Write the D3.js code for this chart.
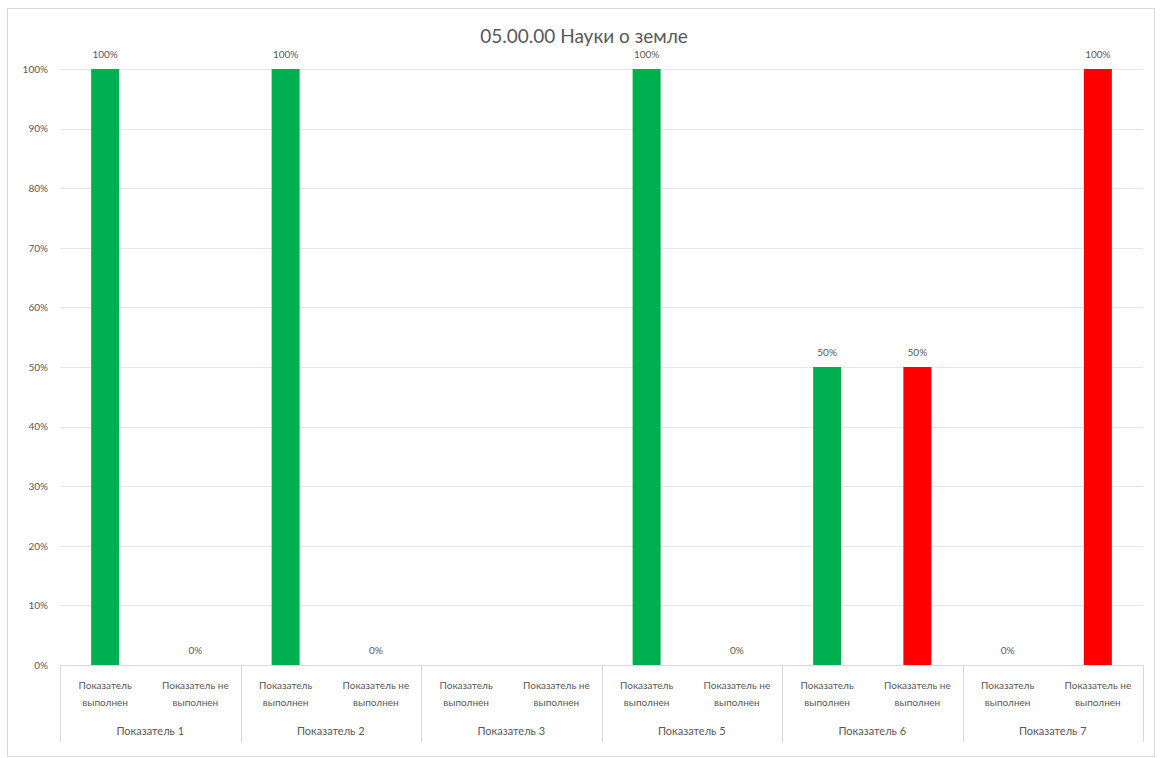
<!DOCTYPE html>
<html><head><meta charset="utf-8">
<script src="https://cdn.jsdelivr.net/npm/d3@7"></script>
<style>body{margin:0;background:#fff;}svg{display:block;font-family:Lato,"Open Sans",sans-serif;}</style>
</head><body><svg id="c" width="1162" height="758"></svg>
<script>
const title = "05.00.00 Науки о земле";
const groups = ["Показатель 1","Показатель 2","Показатель 3","Показатель 5","Показатель 6","Показатель 7"];
const subCategories = ["Показатель выполнен","Показатель не выполнен"];
const subLines = [["Показатель","выполнен"],["Показатель не","выполнен"]];
const doneValues = [1, 1, null, 1, 0.5, 0];
const notDoneValues = [0, 0, null, 0, 0.5, 1];
const yTicks = [0,0.1,0.2,0.3,0.4,0.5,0.6,0.7,0.8,0.9,1];
const colors = ["#00B050","#FF0000"];

const rows = [];
groups.forEach((g,gi)=>{
  rows.push({key:gi+"-0", group:g, sub:0, value:doneValues[gi]});
  rows.push({key:gi+"-1", group:g, sub:1, value:notDoneValues[gi]});
});

const svg = d3.select("#c");
const L=60, R=1143, T=69, B=665;
const text="#595959";

svg.append("rect").attr("x",7.5).attr("y",8.5).attr("width",1147).attr("height",748)
  .attr("fill","#fff").attr("stroke","#D9D9D9");

const x = d3.scaleBand().domain(rows.map(d=>d.key)).range([L,R]).paddingInner(0.69).paddingOuter(0.345);
const xOuter = d3.scaleBand().domain(rows.map(d=>d.key)).range([L,R]);
const xg = d3.scaleBand().domain(groups).range([L,R]);
const y = d3.scaleLinear().domain([0,1]).range([B,T]);

// gridlines
svg.append("g").selectAll("line").data(yTicks).join("line")
  .attr("x1",L).attr("x2",R).attr("y1",d=>Math.round(y(d))+0.5).attr("y2",d=>Math.round(y(d))+0.5)
  .attr("stroke","#E6E6E6");

// y axis labels
const yAxis = d3.axisLeft(y).tickValues(yTicks).tickFormat(d3.format(".0%")).tickSize(0).tickPadding(12);
const ya = svg.append("g").attr("transform",`translate(${L},0)`).call(yAxis);
ya.select(".domain").remove();
ya.selectAll("text").attr("fill",text).style("font-size","10px").style("font-family","Lato");

// x axis line
svg.append("line").attr("x1",L).attr("x2",R).attr("y1",B+0.5).attr("y2",B+0.5).attr("stroke","#D9D9D9");

// group separators
svg.append("g").selectAll("line").data(d3.range(groups.length+1)).join("line")
  .attr("x1",i=>Math.round(L+i*xg.step())+0.5).attr("x2",i=>Math.round(L+i*xg.step())+0.5)
  .attr("y1",B).attr("y2",742).attr("stroke","#D9D9D9");

// bars
const valid = rows.filter(d=>d.value!==null);
svg.append("g").selectAll("rect").data(valid).join("rect")
  .attr("x",d=>x(d.key)).attr("width",x.bandwidth())
  .attr("y",d=>y(d.value)).attr("height",d=>y(0)-y(d.value))
  .attr("fill",d=>colors[d.sub]);

// data labels
svg.append("g").selectAll("text").data(valid).join("text")
  .attr("x",d=>x(d.key)+x.bandwidth()/2).attr("y",d=>y(d.value)-11)
  .attr("text-anchor","middle").attr("fill",text).style("font-size","10px")
  .text(d=>d3.format(".0%")(d.value));

// sub category labels
const sl = svg.append("g").selectAll("text").data(rows).join("text")
  .attr("text-anchor","middle").attr("fill",text).style("font-size","10px")
  .attr("transform",d=>`translate(${xOuter(d.key)+xOuter.bandwidth()/2},0)`);
sl.each(function(d){
  const t=d3.select(this);
  subLines[d.sub].forEach((ln,i)=>t.append("tspan").attr("x",0).attr("y",689+i*17).text(ln));
});

// group labels
svg.append("g").selectAll("text").data(groups).join("text")
  .attr("x",d=>xg(d)+xg.bandwidth()/2).attr("y",735)
  .attr("text-anchor","middle").attr("fill",text).style("font-size","11px").text(d=>d);

// title
svg.append("text").attr("x",584).attr("y",43).attr("text-anchor","middle")
  .attr("fill",text).style("font-size","19px").text(title);
</script></body></html>
